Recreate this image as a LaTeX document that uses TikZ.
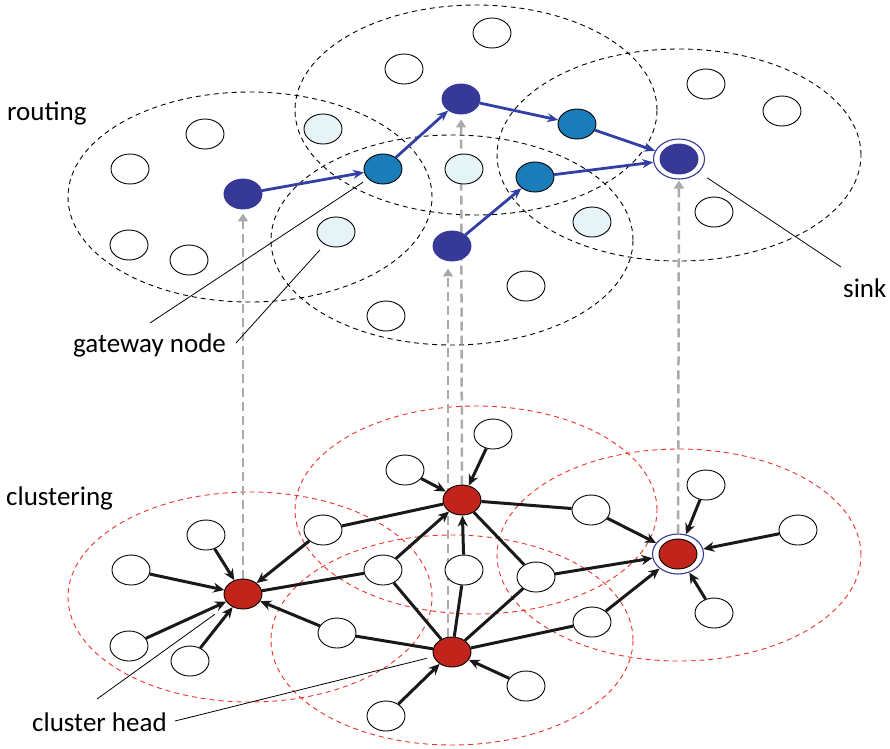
\documentclass[tikz,border=0pt]{standalone}
\usepackage{fontspec}
\setmainfont{Carlito}
\usetikzlibrary{shapes.geometric,positioning,arrows.meta,backgrounds}

\definecolor{darkblue}{RGB}{54,57,150}
\definecolor{midblue}{RGB}{26,124,184}
\definecolor{paleblue}{RGB}{230,244,248}
\definecolor{headred}{RGB}{192,36,26}
\definecolor{routeblue}{RGB}{50,64,165}
\definecolor{rangered}{RGB}{234,50,40}
\definecolor{liftgray}{RGB}{170,170,170}

\begin{document}
\begin{tikzpicture}[x=1pt,y=-1pt,
  sensor/.style={ellipse,draw,line width=0.9pt,fill=white,minimum width=38pt,minimum height=30pt,inner sep=0pt},
  gateway/.style={sensor,fill=paleblue},
  relay/.style={sensor,fill=midblue},
  source/.style={sensor,draw=darkblue,fill=darkblue},
  clhead/.style={sensor,fill=headred},
  sinkring/.style={ellipse,draw=darkblue,line width=1.1pt,minimum width=51pt,minimum height=40pt,inner sep=0pt},
  reach/.style={line width=0.9pt,dash pattern=on 5pt off 4pt},
  route/.style={routeblue,line width=2.8pt,-{Stealth[length=11pt,width=9pt]}},
  link/.style={line width=3pt,black!90},
  toward/.style={link,-{Stealth[length=11pt,width=10pt]}},
  lift/.style={liftgray,line width=2.5pt,dash pattern=on 9pt off 5pt,-{Triangle[length=8pt,width=10pt]}},
  callout/.style={line width=0.8pt},
  caption/.style={anchor=west,font=\fontsize{27}{31}\selectfont,inner sep=0pt}]
\useasboundingbox (0,0) rectangle (890,748);

\node[caption] (routing) at (7,113) {routing};
\node[caption] (clustering) at (6,498) {clustering};
\node[caption] (gwtext) at (73,345) {gateway node};
\node[caption] (sinktext) at (843,288) {sink};
\node[caption] (chtext) at (32,722) {cluster head};

\node[sensor] (r1) at (205,134) {};
\node[sensor] (r2) at (130,169) {};
\node[sensor] (r3) at (129,245) {};
\node[sensor] (r4) at (189,260) {};
\node[gateway] (r5) at (323,129) {};
\node[gateway] (r6) at (336,232) {};
\node[sensor] (r7) at (404,69) {};
\node[sensor] (r8) at (492,33) {};
\node[gateway] (r9) at (464,169) {};
\node[sensor] (r10) at (386,316) {};
\node[sensor] (r11) at (526,286) {};
\node[gateway] (r12) at (592,222) {};
\node[sensor] (r13) at (706,84) {};
\node[sensor] (r14) at (782,111) {};
\node[sensor] (r15) at (714,212) {};
\node[source] (rh1) at (243,194) {};
\node[source] (rh2) at (461,99) {};
\node[source] (rh3) at (452,246) {};
\node[relay] (rg1) at (383,169) {};
\node[relay] (rg2) at (577,124) {};
\node[relay] (rg3) at (535,177) {};
\node[sinkring] (rring) at (679,159) {};
\node[source] (rsink) at (679,159) {};

\draw[route] (rh1) -- (rg1);
\draw[route] (rg1) -- (rh2);
\draw[route] (rh2) -- (rg2);
\draw[route] (rg2) -- (rring);
\draw[route] (rh3) -- (rg3);
\draw[route] (rg3) -- (rring);

\node[clhead] (ch1) at (243,594) {};
\node[clhead] (ch2) at (462,500) {};
\node[clhead] (ch3) at (452,652) {};
\node[sinkring] (cring) at (678,554) {};
\node[clhead] (ch4) at (678,554) {};
\node[sensor] (c1) at (206,535) {};
\node[sensor] (c2) at (131,570) {};
\node[sensor] (c3) at (129,646) {};
\node[sensor] (c4) at (190,661) {};
\node[sensor] (c5) at (323,530) {};
\node[sensor] (c6) at (383,570) {};
\node[sensor] (c7) at (337,633) {};
\node[sensor] (c8) at (405,470) {};
\node[sensor] (c9) at (493,434) {};
\node[sensor] (c10) at (464,570) {};
\node[sensor] (c11) at (536,577) {};
\node[sensor] (c12) at (386,716) {};
\node[sensor] (c13) at (526,686) {};
\node[sensor] (c14) at (591,510) {};
\node[sensor] (c15) at (592,622) {};
\node[sensor] (c16) at (706,485) {};
\node[sensor] (c17) at (798,530) {};
\node[sensor] (c18) at (714,613) {};

\draw[toward] (c1) -- (ch1);
\draw[toward] (c2) -- (ch1);
\draw[toward] (c3) -- (ch1);
\draw[toward] (c4) -- (ch1);
\draw[toward] (c5) -- (ch1);
\draw[toward] (c7) -- (ch1);
\draw[link] (ch1) -- (c6);
\draw[toward] (c6) -- (ch2);
\draw[toward] (c8) -- (ch2);
\draw[toward] (c9) -- (ch2);
\draw[toward] (c10) -- (ch2);
\draw[link] (c5) -- (ch2);
\draw[link] (ch2) -- (c11);
\draw[link] (ch2) -- (c14);
\draw[link] (c6) -- (ch3);
\draw[link] (c7) -- (ch3);
\draw[link] (c10) -- (ch3);
\draw[link] (c11) -- (ch3);
\draw[link] (c15) -- (ch3);
\draw[toward] (c12) -- (ch3);
\draw[toward] (c13) -- (ch3);
\draw[toward] (c14) -- (cring);
\draw[toward] (c11) -- (cring);
\draw[toward] (c15) -- (cring);
\draw[toward] (c16) -- (cring);
\draw[toward] (c17) -- (cring);
\draw[toward] (c18) -- (cring);

\coordinate (gwfoot1) at (150,323);
\coordinate (gwfoot2) at (236,343);
\coordinate (sinkfoot) at (841,267);
\coordinate (chfoot1) at (97,699);
\coordinate (chfoot2) at (175,721);
\draw[callout,shorten >=6pt] (gwfoot1) -- (rg1);
\draw[callout,shorten >=7pt] (gwfoot2) -- (r6);
\draw[callout,shorten >=10pt] (sinkfoot) -- (rring);
\draw[callout,shorten >=17pt] (chfoot1) -- (ch1);
\draw[callout,shorten >=7pt] (chfoot2) -- (ch3);

\begin{scope}[on background layer]
\draw[reach] (250,197) ellipse [x radius=182pt, y radius=105pt];
\draw[reach] (476,110) ellipse [x radius=181pt, y radius=105pt];
\draw[reach] (452,240) ellipse [x radius=181pt, y radius=105pt];
\draw[reach] (679,155) ellipse [x radius=182pt, y radius=106pt];
\draw[reach,rangered] (250,597) ellipse [x radius=182pt, y radius=105pt];
\draw[reach,rangered] (476,510) ellipse [x radius=181pt, y radius=104pt];
\draw[reach,rangered] (452,640) ellipse [x radius=181pt, y radius=105pt];
\draw[reach,rangered] (679,555) ellipse [x radius=182pt, y radius=106pt];
\draw[lift,shorten >=4pt] (ch1) -- (rh1);
\draw[lift,shorten >=5pt] (ch2) -- (rh2);
\draw[lift,shorten >=7pt] ([xshift=-4pt]ch3.north) -- ([xshift=-4pt]rh3.south);
\draw[lift,shorten >=1pt] (cring) -- (rring);
\end{scope}
\end{tikzpicture}
\end{document}
